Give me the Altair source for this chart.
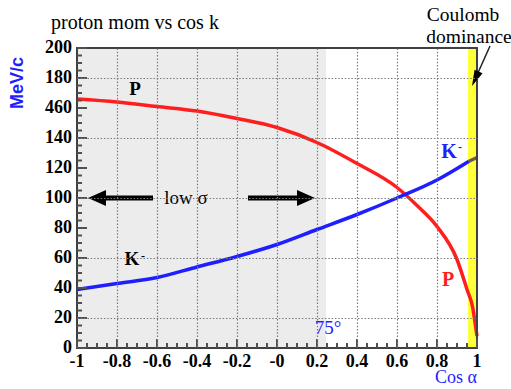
import altair as alt
import pandas as pd

# ---- data ----
p_x = [-1.0, -0.8, -0.6, -0.4, -0.2, 0.0, 0.2, 0.4, 0.6, 0.7, 0.8, 0.9, 0.95, 0.98, 0.99, 1.0]
p_y = [166, 164, 161, 158, 153, 147, 137, 123, 107, 95, 81, 59, 39, 26, 17, 8]

k_x = [-1.0, -0.8, -0.6, -0.4, -0.2, 0.0, 0.2, 0.4, 0.6, 0.8, 0.96, 1.0]
k_y = [39, 43, 47, 54, 61, 69, 79, 89, 100, 112, 124.5, 127]

x_ticks = [-1, -0.8, -0.6, -0.4, -0.2, 0, 0.2, 0.4, 0.6, 0.8, 1]
x_tick_labels = ["-1", "-0.8", "-0.6", "-0.4", "-0.2", "-0", "0.2", "0.4", "0.6", "0.8", "1"]
x_minor = [round(-1 + 0.05 * i, 2) for i in range(41)]
y_ticks = [0, 20, 40, 60, 80, 100, 120, 140, 160, 180, 200]
y_tick_labels = ["0", "20", "40", "60", "80", "100", "120", "140", "460", "180", "200"]
y_minor = [5 * i for i in range(41)]

low_sigma_region = [-1.0, 0.245]
coulomb_region = [0.955, 1.0]

BLUE = "#1e1eff"
RED = "#ff1e1e"
SERIF = "Liberation Serif"

xs = alt.Scale(domain=[-1, 1], nice=False, zero=False)
ys = alt.Scale(domain=[0, 200], nice=False, zero=False)

# tick centres / label offsets in data units (x: 200 px per unit, y: 1.5 px per unit)
XMAJ_C, XMIN_C = 3.0, 1.67
YMAJ_C, YMIN_C = -1 + 0.025, -1 + 0.0125
XLAB_Y = -9.0
YLAB_X = -1.025

grid_kw = dict(grid=True, gridDash=[1.5, 1.8], gridColor="#7a7a7a", gridWidth=1.2,
               labels=False, ticks=False, domain=False, title=None, zindex=1)
x_axis = alt.Axis(values=x_ticks[1:-1], **grid_kw)
y_axis = alt.Axis(values=y_ticks[1:-1], **grid_kw)


def seg_df(x, x2, y, y2):
    return pd.DataFrame({"x": x, "x2": x2, "y": y, "y2": y2})


gray = alt.Chart(seg_df([low_sigma_region[0]], [low_sigma_region[1]], [0], [200])).mark_rect(
    color="#ececec").encode(x=alt.X("x:Q", scale=xs, axis=x_axis), x2="x2",
                             y=alt.Y("y:Q", scale=ys, axis=y_axis), y2="y2")
yellow = alt.Chart(seg_df([coulomb_region[0]], [coulomb_region[1]], [0], [200])).mark_rect(
    color="#ffff3a").encode(x=alt.X("x:Q", scale=xs), x2="x2", y=alt.Y("y:Q", scale=ys), y2="y2")

p_df = pd.DataFrame({"x": p_x, "y": p_y})
k_df = pd.DataFrame({"x": k_x, "y": k_y})
p_line = alt.Chart(p_df).mark_line(color=RED, strokeWidth=3.5, interpolate="monotone").encode(
    x=alt.X("x:Q", scale=xs), y=alt.Y("y:Q", scale=ys))
k_line = alt.Chart(k_df).transform_filter("datum.x <= 0.96").mark_line(
    color=BLUE, strokeWidth=3.5, interpolate="monotone").encode(
    x=alt.X("x:Q", scale=xs), y=alt.Y("y:Q", scale=ys))
k_tail = alt.Chart(k_df).transform_filter("datum.x >= 0.96").mark_line(color="#6a5a48", strokeWidth=3.5).encode(
    x=alt.X("x:Q", scale=xs), y=alt.Y("y:Q", scale=ys))

frame = alt.Chart(seg_df([-1], [1], [0], [200])).mark_rect(
    fillOpacity=0, stroke="#404040", strokeWidth=2).encode(
    x=alt.X("x:Q", scale=xs), x2="x2", y=alt.Y("y:Q", scale=ys), y2="y2")


# inward ticks as tick marks
def tick_layer(df, orient, size):
    return alt.Chart(df).mark_tick(orient=orient, size=size, thickness=2, color="#505050", opacity=1).encode(
        x=alt.X("x:Q", scale=xs), y=alt.Y("y:Q", scale=ys))


xmaj = tick_layer(pd.DataFrame({"x": x_ticks, "y": XMAJ_C}), "vertical", 9)
xmin = tick_layer(pd.DataFrame({"x": x_minor, "y": XMIN_C}), "vertical", 5)
ymaj = tick_layer(pd.DataFrame({"y": y_ticks, "x": YMAJ_C}), "horizontal", 10)
ymin = tick_layer(pd.DataFrame({"y": y_minor, "x": YMIN_C}), "horizontal", 5)

# big "low sigma" arrows
shafts = alt.Chart(seg_df([-0.9, -0.145], [-0.62, 0.145], [100, 100], [100, 100])).mark_rule(
    color="black", strokeWidth=5).encode(
    x=alt.X("x:Q", scale=xs), x2="x2", y=alt.Y("y:Q", scale=ys), y2="y2")
head_l = alt.Chart(pd.DataFrame({"x": [-0.9], "y": [100]})).mark_point(
    shape="M-1,0L1,-0.9L1,0.9Z", filled=True, color="black", opacity=1, size=324).encode(
    x=alt.X("x:Q", scale=xs), y=alt.Y("y:Q", scale=ys))
head_r = alt.Chart(pd.DataFrame({"x": [0.145], "y": [100]})).mark_point(
    shape="M1,0L-1,-0.9L-1,0.9Z", filled=True, color="black", opacity=1, size=324).encode(
    x=alt.X("x:Q", scale=xs), y=alt.Y("y:Q", scale=ys))

# Coulomb arrow
c_line = alt.Chart(seg_df([1.065], [0.9915], [201.3], [179.5])).mark_rule(
    color="#222222", strokeWidth=1.5).encode(
    x=alt.X("x:Q", scale=xs), x2="x2", y=alt.Y("y:Q", scale=ys), y2="y2")
c_head = alt.Chart(pd.DataFrame({"x": [0.9915], "y": [179.5]})).mark_point(
    shape="M0,-1L0.55,1L-0.55,1Z", filled=True, color="black", opacity=1, size=256, angle=204).encode(
    x=alt.X("x:Q", scale=xs), y=alt.Y("y:Q", scale=ys))


def txt(texts, x, y, color="black", size=18, weight="normal", font=SERIF, angle=0, dx=0, dy=0,
        align="center"):
    df = pd.DataFrame({"t": texts, "x": x, "y": y})
    kw = dict(color=color, fontSize=size, fontWeight=weight, font=font, align=align,
              baseline="middle", dx=dx, dy=dy)
    if angle:
        kw["angle"] = angle
    return alt.Chart(df).mark_text(**kw).encode(
        x=alt.X("x:Q", scale=xs), y=alt.Y("y:Q", scale=ys), text="t:N")


texts = [
    txt(x_tick_labels, x_ticks, [XLAB_Y] * len(x_ticks), size=18, weight="bold"),
    txt(y_tick_labels, [YLAB_X] * len(y_ticks), y_ticks, size=18, weight="bold", align="right"),
    txt(["proton mom vs cos k"], [-0.71], [217], size=20),
    txt(["Coulomb", "dominance"], [0.93, 0.96], [222, 207.3], size=19.5),
    txt(["low σ"], [-0.455], [100], size=19),
    txt(["P", "K"], [-0.71, -0.725], [173, 59.3], size=19, weight="bold"),
    txt(["-"], [-0.725], [59.3], size=12, weight="bold", dx=11, dy=-3),
    txt(["P"], [0.855], [45.3], color=RED, size=20, weight="bold"),
    txt(["K"], [0.86], [130.7], color=BLUE, size=20, weight="bold"),
    txt(["-"], [0.86], [130.7], color=BLUE, size=12, weight="bold", dx=11, dy=-5),
    txt(["75°"], [0.255], [13.3], color=BLUE, size=19),
    txt(["Cos α"], [0.895], [-20], color=BLUE, size=18),
    txt(["MeV/c"], [-1.295], [176.7], color=BLUE, size=18, weight="bold",
        font="Liberation Sans", angle=270),
]

chart = alt.layer(
    gray, yellow, p_line, k_line, k_tail, frame, xmaj, xmin, ymaj, ymin,
    shafts, head_l, head_r, c_line, c_head, *texts
).properties(
    width=400, height=300,
    autosize=alt.AutoSizeParams(type="none"),
    padding={"left": 77, "top": 48, "right": 34, "bottom": 41},
).configure_view(stroke=None)

chart.save("out.html", embed_options={"renderer": "svg", "actions": False})
